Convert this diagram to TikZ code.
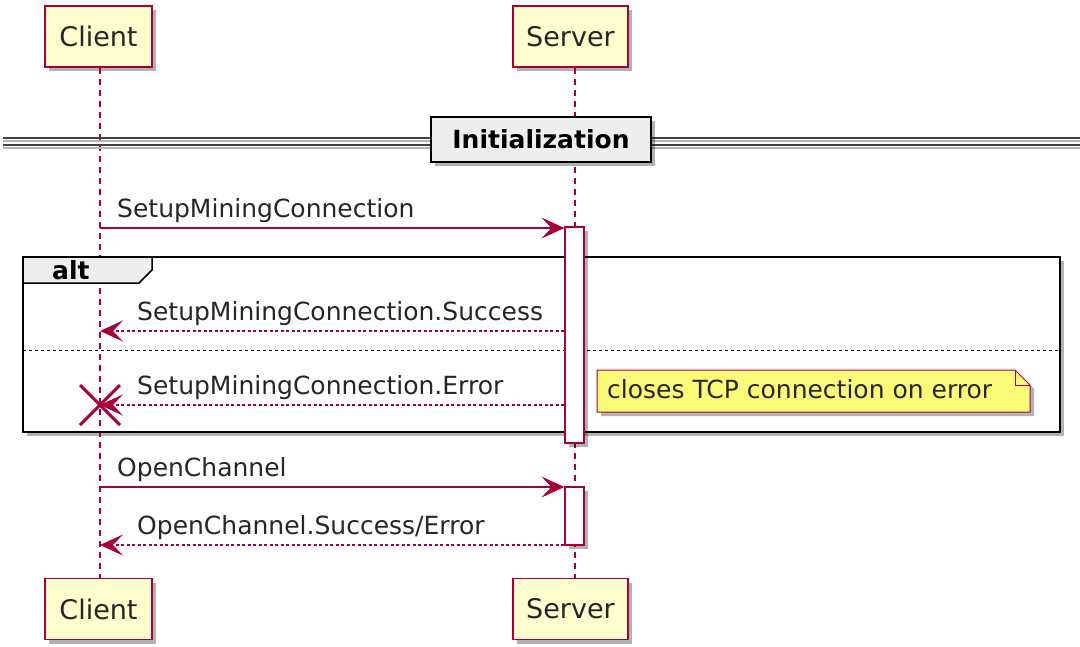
\documentclass[tikz,border=0pt]{standalone}
\usepackage{fontspec}
\setmainfont{DejaVu Sans}
\usetikzlibrary{arrows.meta,shadows,calc}
\definecolor{pu}{HTML}{A80036}
\definecolor{partf}{HTML}{FEFECE}
\definecolor{notef}{HTML}{FBFB77}
\definecolor{grpf}{HTML}{EEEEEE}
\begin{document}
\begin{tikzpicture}[x=1pt,y=-1pt,
  shad/.style={drop shadow={shadow xshift=4pt,shadow yshift=-4pt,opacity=0.3,fill=black}},
  participant/.style={draw=pu,fill=partf,line width=1.5pt,minimum height=61pt,
    font=\fontsize{27}{30}\selectfont,text=black!85,inner sep=0pt,shad},
  lifeline/.style={draw=pu,line width=1.2pt,dash pattern=on 6pt off 5pt},
  actbar/.style={draw=pu,fill=white,line width=1.2pt,minimum width=19pt,inner sep=0pt,shad},
  msg/.style={draw=pu,line width=1.5pt,-{Stealth[length=23pt,width=21pt,inset=10pt]}},
  ret/.style={msg,dash pattern=on 3pt off 2.5pt},
  lbl/.style={font=\fontsize{25}{28}\selectfont,text=black!85,inner sep=0pt},
  grp/.style={draw=black,line width=2.8pt},
]
\useasboundingbox (0,0) rectangle (1080,646);
% lifeline x positions
\coordinate (cx) at (100,0);
\coordinate (sx) at (575,0);
% alt frame background
\path[fill=white,shad] (23,257) rectangle (1060,432);
% participants
\node[participant,minimum width=107pt] (cT) at (98.5,36.5) {Client};
\node[participant,minimum width=115pt] (sT) at (570.5,36.5) {Server};
\node[participant,minimum width=107pt] (cB) at (98.5,609) {Client};
\node[participant,minimum width=115pt] (sB) at (570.5,609) {Server};
% lifelines
\draw[lifeline] (cT.south -| cx) -- (cB.north -| cx);
\draw[lifeline] (sT.south -| sx) -- (sB.north -| sx);
% separator
\draw[black!75,line width=2pt,preaction={draw=black!30,line width=2pt,transform canvas={yshift=-3pt}}] (3,138) -- (1080,138);
\draw[black!75,line width=2pt,preaction={draw=black!30,line width=2pt,transform canvas={yshift=-3pt}}] (3,145) -- (1080,145);
\node[draw=black,line width=2.8pt,fill=grpf,minimum width=220pt,minimum height=45pt,inner sep=0pt,
  font=\fontsize{25}{28}\selectfont\bfseries,shad] (init) at (541,139.5) {Initialization};
% alt frame
\path[fill=grpf,draw=black,line width=1.5pt] (23,257) -- (152,257) -- (152,270) -- (139,283) -- (23,283) -- cycle;
\draw[grp] (23,257) rectangle (1060,432);
\node[font=\fontsize{25}{28}\selectfont\bfseries,anchor=base west,inner sep=0pt] (alt) at (52,279) {alt};
\draw[black,line width=1pt,dash pattern=on 3pt off 3pt] (23,350) -- (1060,350);
% activation bars
\node[actbar,minimum height=216pt] (a1) at (574.5,335) {};
\node[actbar,minimum height=58pt] (a2) at (574.5,516) {};
% messages
\coordinate (y1) at (0,228);
\coordinate (y2) at (0,331);
\coordinate (y3) at (0,405);
\coordinate (y4) at (0,487);
\coordinate (y5) at (0,545);
\draw[msg] (cx |- y1) -- (a1.west |- y1);
\node[lbl,anchor=base west] (l1) at (117,217) {SetupMiningConnection};
\draw[ret] (a1.west |- y2) -- (cx |- y2);
\node[lbl,anchor=base west] (l2) at (137,320) {SetupMiningConnection.Success};
\draw[ret] (a1.west |- y3) -- (cx |- y3);
\node[lbl,anchor=base west] (l3) at (137,394) {SetupMiningConnection.Error};
\draw[pu,line width=3pt] ($(cx |- y3)+(-20,-20)$) -- ($(cx |- y3)+(20,20)$);
\draw[pu,line width=3pt] ($(cx |- y3)+(-20,20)$) -- ($(cx |- y3)+(20,-20)$);
% note
\path[fill=notef,draw=pu,line width=1pt,shad] (597,370) -- (1015,370) -- (1030,385) -- (1030,412) -- (597,412) -- cycle;
\draw[pu,line width=1pt] (1015,370) -- (1015,385) -- (1030,385);
\node[lbl,anchor=base west] (note) at (607,398) {closes TCP connection on error};
% open channel
\draw[msg] (cx |- y4) -- (a2.west |- y4);
\node[lbl,anchor=base west] (l4) at (117,476) {OpenChannel};
\draw[ret] (a2.west |- y5) -- (cx |- y5);
\node[lbl,anchor=base west] (l5) at (137,534) {OpenChannel.Success/Error};
\end{tikzpicture}
\end{document}
